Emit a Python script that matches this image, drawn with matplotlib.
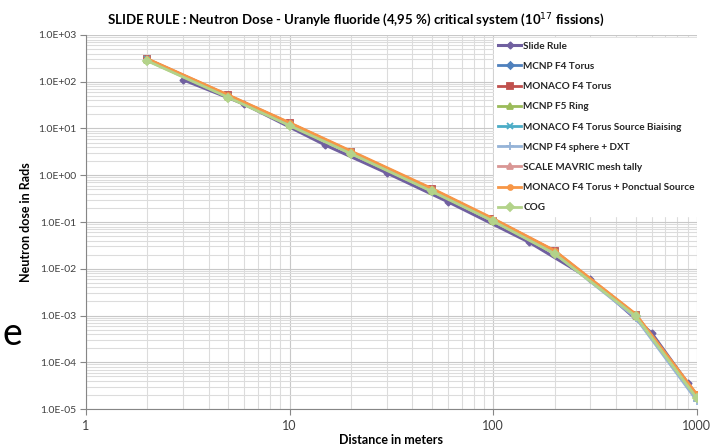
import matplotlib
matplotlib.use("Agg")
from matplotlib import pyplot as plt
from matplotlib.ticker import LogLocator, FixedLocator, FixedFormatter, NullFormatter

plt.rcParams["font.family"] = ["Lato", "DejaVu Sans"]

# slide rule readings
slide_x = [3, 6, 15, 30, 60, 150, 300, 600, 900]
slide_y = [110, 33, 4.4, 1.12, 0.27, 0.037, 6.0e-3, 4.2e-4, 3.6e-5]

# computed results, same distances for every code
dist = [2, 5, 10, 20, 50, 100, 200, 500, 1000]
mcnp_f4_torus = [295, 48, 12.0, 3.0, 0.47, 0.108, 0.022, 1.0e-3, 1.8e-5]
monaco_f4_torus = [305, 51, 13.0, 3.2, 0.50, 0.115, 0.024, 1.05e-3, 2.0e-5]
mcnp_f5_ring = [285, 47, 11.8, 2.95, 0.46, 0.106, 0.0215, 0.98e-3, 1.75e-5]
monaco_biaising = [300, 50, 12.6, 3.1, 0.49, 0.112, 0.023, 1.02e-3, 1.9e-5]
mcnp_sphere_dxt = [290, 48, 12.2, 3.0, 0.47, 0.107, 0.0215, 0.9e-3, 1.5e-5]
scale_mavric = [300, 50, 12.8, 3.15, 0.50, 0.113, 0.0235, 1.03e-3, 1.95e-5]
monaco_ponctual = [310, 52, 13.3, 3.3, 0.52, 0.118, 0.0245, 1.08e-3, 2.05e-5]
cog = [280, 46, 11.5, 2.9, 0.45, 0.104, 0.021, 0.97e-3, 1.7e-5]

series = [
    ("MCNP F4 Torus", mcnp_f4_torus, "#4F81BD", "D", 3.5),
    ("MONACO F4 Torus", monaco_f4_torus, "#C0504D", "s", 5),
    ("MCNP F5 Ring", mcnp_f5_ring, "#9BBB59", "^", 5),
    ("MONACO F4 Torus Source Biaising", monaco_biaising, "#4BACC6", "x", 5),
    ("MCNP F4 sphere + DXT", mcnp_sphere_dxt, "#95B3D7", "+", 6),
    ("SCALE MAVRIC mesh tally", scale_mavric, "#D99694", "^", 5),
    ("MONACO F4 Torus + Ponctual Source", monaco_ponctual, "#F79646", "o", 3.5),
    ("COG", cog, "#B3D38A", "D", 4.5),
]

y_ticks = [1e-5, 1e-4, 1e-3, 1e-2, 1e-1, 1e0, 1e1, 1e2, 1e3]
y_labels = ["1.0E-05", "1.0E-04", "1.0E-03", "1.0E-02", "1.0E-01",
            "1.0E+00", "1.0E+01", "1.0E+02", "1.0E+03"]
x_ticks = [1, 10, 100, 1000]
x_labels = ["1", "10", "100", "1000"]

fig = plt.figure(figsize=(7.12, 4.44), dpi=100)
ax = fig.add_axes([0.1208, 0.0788, 0.858, 0.8424])

ax.plot(slide_x, slide_y, color="#7060A0", lw=2.2, marker="D", ms=3.5,
        label="Slide Rule", zorder=3)
for name, vals, col, mk, ms in series:
    ax.plot(dist, vals, color=col, lw=2.0, marker=mk, ms=ms, mew=1.3,
            label=name, zorder=3)

ax.set_xscale("log")
ax.set_yscale("log")
ax.set_xlim(1, 1000)
ax.set_ylim(1e-5, 1e3)

ax.yaxis.set_major_locator(FixedLocator(y_ticks))
ax.yaxis.set_major_formatter(FixedFormatter(y_labels))
ax.yaxis.set_minor_locator(LogLocator(base=10, subs=range(2, 10), numticks=20))
ax.yaxis.set_minor_formatter(NullFormatter())
ax.xaxis.set_major_locator(FixedLocator(x_ticks))
ax.xaxis.set_major_formatter(FixedFormatter(x_labels))
ax.xaxis.set_minor_locator(LogLocator(base=10, subs=range(2, 10), numticks=20))
ax.xaxis.set_minor_formatter(NullFormatter())

ax.grid(which="major", color="#C8C8C8", lw=0.8)
ax.grid(which="minor", color="#DCDCDC", lw=0.8)
ax.set_axisbelow(True)
ax.tick_params(which="minor", length=0)
ax.tick_params(which="major", length=4, color="#868686")
ax.tick_params(axis="y", labelsize=7.5, labelcolor="#404040", pad=3)
ax.tick_params(axis="x", labelsize=9, labelcolor="#404040", pad=4)
for s in ["top", "right"]:
    ax.spines[s].set_visible(False)
for s in ["left", "bottom"]:
    ax.spines[s].set_color("#868686")

ax.set_xlabel("Distance in meters", fontsize=9, fontweight="bold", labelpad=1)
ax.set_ylabel("Neutron dose in Rads", fontsize=9, fontweight="bold", labelpad=4)
fig.text(0.5, 0.955,
         "SLIDE RULE : Neutron Dose - Uranyle fluoride (4,95 %) critical system (10$^{17}$ fissions)",
         ha="center", va="center", fontsize=9.5, fontweight="bold")

leg = fig.legend(loc="upper left", bbox_to_anchor=(0.694, 0.915), fontsize=7.2,
                 frameon=True, fancybox=False, handlelength=2.3,
                 handletextpad=0.2, labelspacing=1.12, borderpad=0.4,
                 borderaxespad=0)
leg.get_frame().set_facecolor("white")
leg.get_frame().set_edgecolor("white")
leg.get_frame().set_alpha(1)
for t in leg.get_texts():
    t.set_fontweight("bold")
    t.set_color("#262626")

fig.text(0.004, 0.222, "e", fontsize=27, va="baseline", ha="left")

fig.savefig("out.png", dpi=100)
